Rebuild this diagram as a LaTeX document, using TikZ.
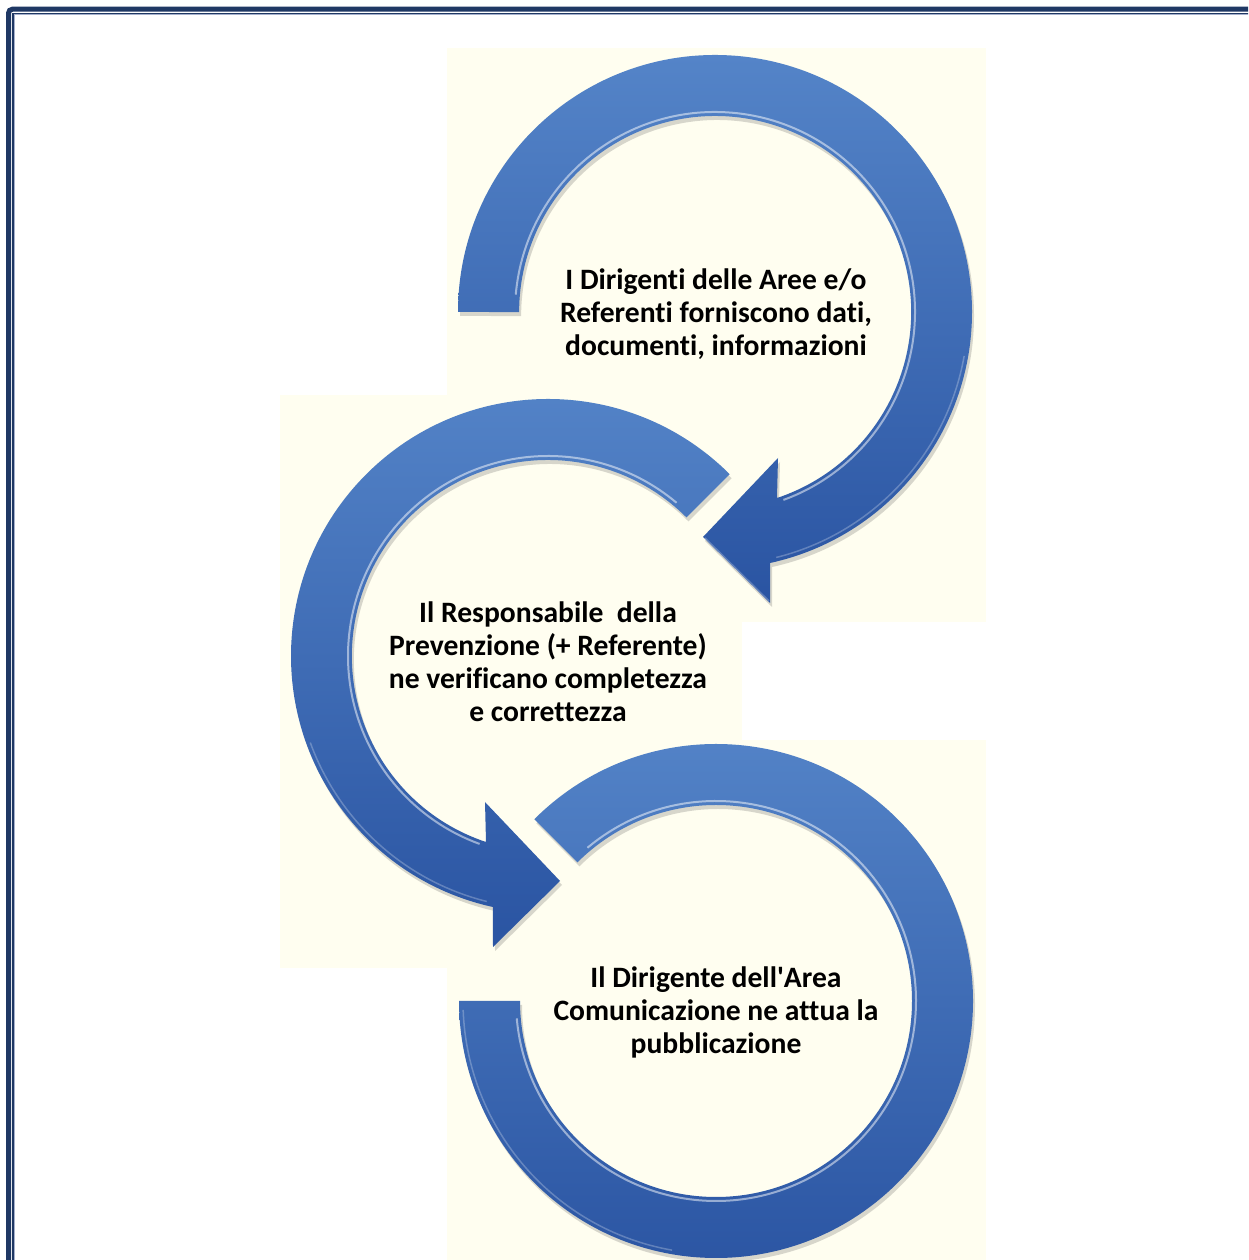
\documentclass[tikz,border=0pt]{standalone}
\usepackage{fontspec}
\setmainfont{Carlito}[Ligatures={NoCommon}]
\usetikzlibrary{shadows}

\definecolor{cream}{RGB}{255,254,240}
\definecolor{navy}{RGB}{31,56,100}
\definecolor{ringtop}{RGB}{84,132,200}
\definecolor{ringbot}{RGB}{42,84,162}
\definecolor{pale}{RGB}{165,176,204}

\tikzset{
  ring/.style={top color=ringtop, bottom color=ringbot, draw=none,
    drop shadow={shadow xshift=2pt, shadow yshift=-4pt, opacity=0.22, fill=black!70}},
  glint/.style={draw=white, line width=2pt, opacity=0.5},
  softglint/.style={draw=white, line width=1.5pt, opacity=0.25},
  backdrop/.style={fill=cream, draw=none},
  boxtext/.style={align=center, font=\bfseries\fontsize{29.6}{33}\selectfont,
    inner sep=0pt, text=black}
}

\begin{document}
\begin{tikzpicture}[x=1pt,y=1pt]
  \useasboundingbox (0,0) rectangle (1248,1260);
  \fill[white] (0,0) rectangle (1248,1260);
  \clip (0,0) rectangle (1248,1260);

  % page frame (thick line, thin line, pale line)
  \draw[navy, line width=5pt, rounded corners=4pt] (8.5,-10) -- (8.5,1250.8) -- (1270,1250.8);
  \draw[navy, line width=1.6pt] (13.2,-10) -- (13.2,1246.5) -- (1270,1246.5);
  \draw[pale, line width=1pt] (14.8,-10) -- (14.8,1245) -- (1270,1245);

  % cream backdrops of the three steps
  \fill[backdrop] (447,638) rectangle (986,1212);
  \fill[backdrop] (280,292) rectangle (742,865);
  \fill[backdrop] (447,0) rectangle (986,520);

  % bottom ring (no arrow head)
  \begin{scope}[shift={(716,259)}]
    \path[ring] (135:257) arc[start angle=135, end angle=-180, radius=257]
      -- (-180:196) arc[start angle=-180, end angle=135, radius=196] -- cycle;
    \draw[glint] (130:200) arc[start angle=130, end angle=-175, radius=200];
    \draw[softglint] (-100:253) arc[start angle=-100, end angle=-178, radius=253];
  \end{scope}

  % middle arrow, counter-clockwise
  \begin{scope}[shift={(548,604)}]
    \path[ring] (45:257) arc[start angle=45, end angle=257.6, radius=257]
      -- (-55,-291) -- (12,-225) -- (-63,-146) -- (-62,-186)
      arc[start angle=251.6, end angle=45, radius=196] -- cycle;
    \draw[glint] (50:200) arc[start angle=50, end angle=250, radius=200];
    \draw[softglint] (-62,-146) -- (12,-222);
    \draw[softglint] (200:253) arc[start angle=200, end angle=256, radius=253];
  \end{scope}

  % top arrow, clockwise
  \begin{scope}[shift={(715,948)}]
    \path[ring] (180:257) arc[start angle=180, end angle=-77.6, radius=257]
      -- (55,-291) -- (-12,-225) -- (63,-146) -- (62,-186)
      arc[start angle=-71.6, end angle=180, radius=196] -- cycle;
    \draw[glint] (175:200) arc[start angle=175, end angle=-70, radius=200];
    \draw[softglint] (-10:253) arc[start angle=-10, end angle=-76, radius=253];
    \draw[softglint] (54,-289) -- (-10,-226);
  \end{scope}

  % step texts
  \node[boxtext] (t1) at (716,946) {I Dirigenti delle Aree e/o\\Referenti forniscono dati,\\documenti, informazioni};
  \node[boxtext] (t2) at (548,598) {Il Responsabile\ \ della\\Prevenzione (+ Referente)\\ne verificano completezza\\e correttezza};
  \node[boxtext] (t3) at (716,248) {Il Dirigente dell\textquotesingle Area\\Comunicazione ne attua la\\pubblicazione};
\end{tikzpicture}
\end{document}
